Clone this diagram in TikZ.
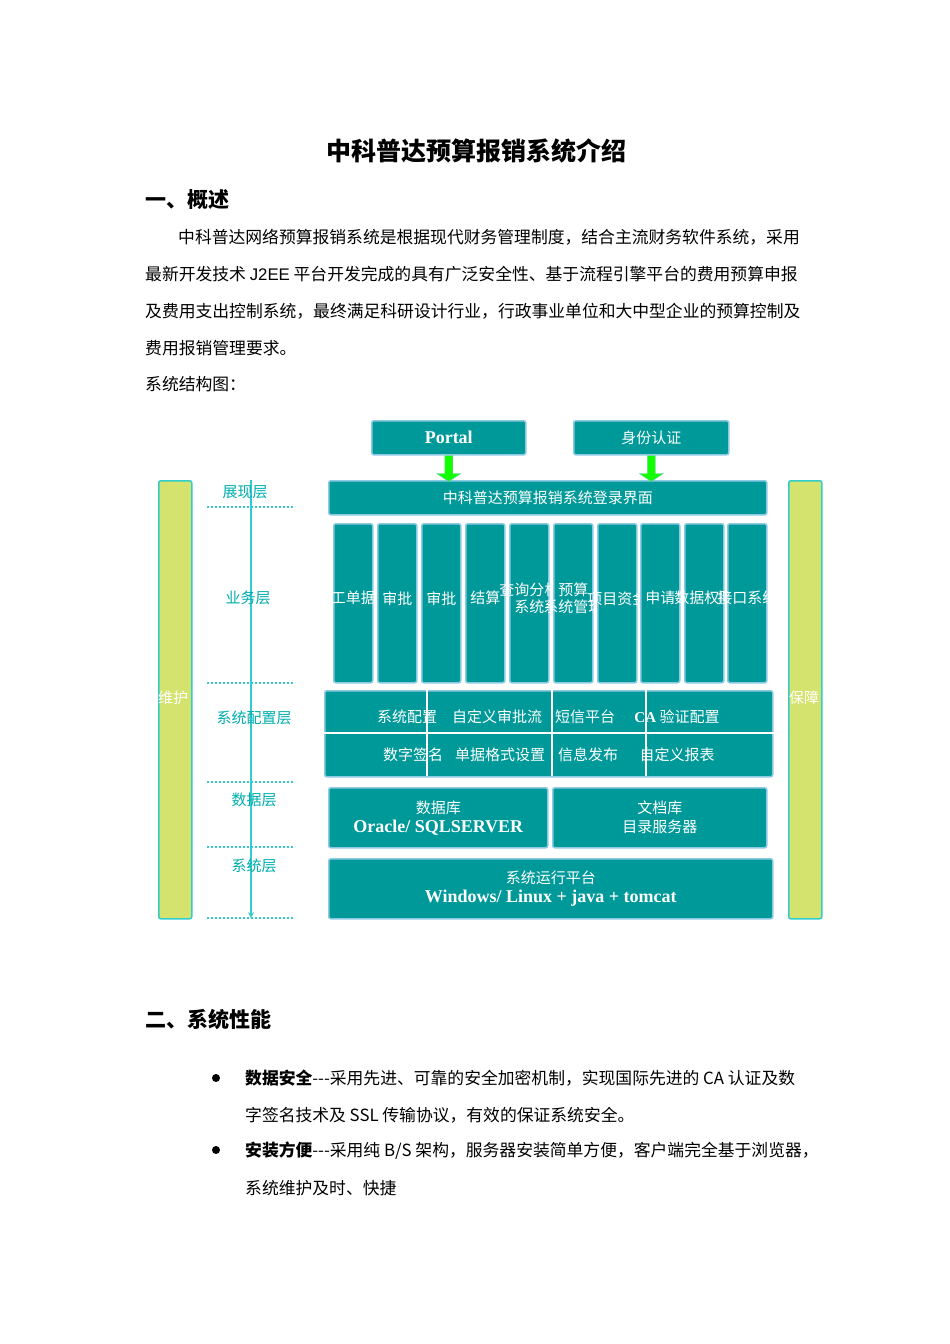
\documentclass[tikz,border=0pt]{standalone}
\usepackage{fontspec}
\setmainfont{Liberation Sans}
\newfontfamily\cjk{Noto Sans CJK SC}
\newfontfamily\tms{Liberation Serif}
\begin{document}
\begin{tikzpicture}[x=1pt,y=-1pt,
 tb/.style={draw=cyan!60!teal!50,line width=1.5pt,fill=tealc,rounded corners=2pt},
 wt/.style={text=white,font=\cjk\fontsize{15}{19}\selectfont,align=center},
 lay/.style={text=tealc!80!cyan,font=\cjk\fontsize{15}{17}\selectfont},
 body/.style={anchor=west,inner sep=0pt,font=\cjk\fontsize{16.8}{20}\selectfont},
 dl/.style={draw=lcyan,line width=2.2pt,dash pattern=on 2pt off 2pt},
 bar/.style={draw=lcyan,line width=1.5pt,fill=yg,rounded corners=2pt}]
\definecolor{tealc}{HTML}{009999}
\definecolor{lcyan}{HTML}{33CCCC}
\definecolor{yg}{HTML}{D4E36E}
\useasboundingbox (0,0) rectangle (950,1344);
\node (title) at (476,151) {\cjk\bfseries\fontsize{25}{28}\selectfont 中科普达预算报销系统介绍};
\node[body,font=\cjk\bfseries\fontsize{21}{24}\selectfont] (s1) at (145,200) {一、概述};
\node[body] (p1) at (178,237) {中科普达网络预算报销系统是根据现代财务管理制度，结合主流财务软件系统，采用};
\node[body] (p2) at (145,274) {最新开发技术 {\fontspec{Liberation Sans}J2EE} 平台开发完成的具有广泛安全性、基于流程引擎平台的费用预算申报};
\node[body] (p3) at (145,311) {及费用支出控制系统，最终满足科研设计行业，行政事业单位和大中型企业的预算控制及};
\node[body] (p4) at (145,348) {费用报销管理要求。};
\node[body] (p5) at (145,384) {系统结构图：};
% bars
\node[bar,minimum width=33,minimum height=438,anchor=north west] (lb) at (158,480) {};
\node[bar,minimum width=33,minimum height=438,anchor=north west] (rb) at (788,480) {};
\node[text=white,font=\cjk\fontsize{15}{16}\selectfont] (lbt) at (173,698) {维护};
\node[text=white,font=\cjk\fontsize{15}{16}\selectfont] (rbt) at (804,698) {保障};
% top
\node[tb,minimum width=154,minimum height=34,anchor=north west] (portal) at (371,420) {};
\node[text=white,font=\tms\bfseries\fontsize{18}{19}\selectfont] at (portal) {Portal};
\node[tb,minimum width=155,minimum height=34,anchor=north west] (auth) at (573,420) {};
\node[wt] at (auth) {身份认证};
\node[tb,minimum width=438,minimum height=34,anchor=north west] (login) at (328,480) {};
\node[wt] at (login) {中科普达预算报销系统登录界面};
\foreach \s in {portal,auth}{
 \fill[green!90!lime,draw=tealc!60] ([xshift=-4]\s.south) -- ([xshift=4]\s.south) -- ([xshift=4,yshift=-18]\s.south) -- ([xshift=12,yshift=-18]\s.south) -- ([yshift=-26]\s.south) -- ([xshift=-12,yshift=-18]\s.south) -- ([xshift=-4,yshift=-18]\s.south) -- cycle;}
% columns
\foreach \x/\t in {333/工单据,377/审批,421/审批,465/结算,509/查询分析\\系统,553/预算\\系统管理,597/项目资金,640/申请,684/数据权限,727/接口系统}{
 \node[tb,minimum width=39,minimum height=159,anchor=north west] (c\x) at (\x,523) {};
 \node[wt,font=\cjk\fontsize{15}{17}\selectfont] at ([yshift=5]c\x.center) {\t};}
% config
\node[tb,minimum width=448,minimum height=86,anchor=north west] (cfg) at (324,690) {};
\draw[white,line width=1.5pt] (cfg.west|-0,733) -- (cfg.east|-0,733);
\foreach \x in {427,552,646}{\draw[white,line width=1.5pt] (\x,690) -- (\x,776);}
\node[wt] at (407,717) {系统配置};
\node[wt] at (497,717) {自定义审批流};
\node[wt] at (585,717) {短信平台};
\node[wt] at (677,717) {{\tms\bfseries CA} 验证配置};
\node[wt] at (413,755) {数字签名};
\node[wt] at (500,755) {单据格式设置};
\node[wt] at (588,755) {信息发布};
\node[wt] at (677,755) {自定义报表};
% data
\node[tb,minimum width=219,minimum height=60,anchor=north west] (db) at (328,787) {};
\node[wt] at (db) {数据库\\{\tms\bfseries\fontsize{18}{19}\selectfont Oracle/ SQLSERVER}};
\node[tb,minimum width=214,minimum height=60,anchor=north west] (doc) at (552,787) {};
\node[wt] at (doc) {文档库\\目录服务器};
\node[tb,minimum width=444,minimum height=60,anchor=north west] (sys) at (328,858) {};
\node[wt] at (sys) {系统运行平台\\{\tms\bfseries\fontsize{18}{19}\selectfont Windows/ Linux + java + tomcat}};
% layers
\foreach \y in {507,683,782,847,918}{\draw[dl] (207,\y) -- (293,\y);}
\coordinate (atop) at (251,480); \coordinate (abot) at (251,918);
\draw[lcyan,line width=1.5pt,-stealth] (atop) -- (abot);
\node[lay] at (245,492) {展现层};
\node[lay] at (248,598) {业务层};
\node[lay] at (254,718) {系统配置层};
\node[lay] at (254,800) {数据层};
\node[lay] at (254,866) {系统层};
% section 2
\node[body,font=\cjk\bfseries\fontsize{21}{24}\selectfont] (s2) at (145,1019) {二、系统性能};
\fill (216,1078) circle (4); \fill (216,1150) circle (4);
\node[body] (b1) at (245,1078) {{\bfseries 数据安全}---采用先进、可靠的安全加密机制，实现国际先进的 CA 认证及数};
\node[body] (b2) at (245,1115) {字签名技术及 SSL 传输协议，有效的保证系统安全。};
\node[body] (b3) at (245,1151) {{\bfseries 安装方便}---采用纯 B/S 架构，服务器安装简单方便，客户端完全基于浏览器，};
\node[body] (b4) at (245,1188) {系统维护及时、快捷};
\end{tikzpicture}
\end{document}
